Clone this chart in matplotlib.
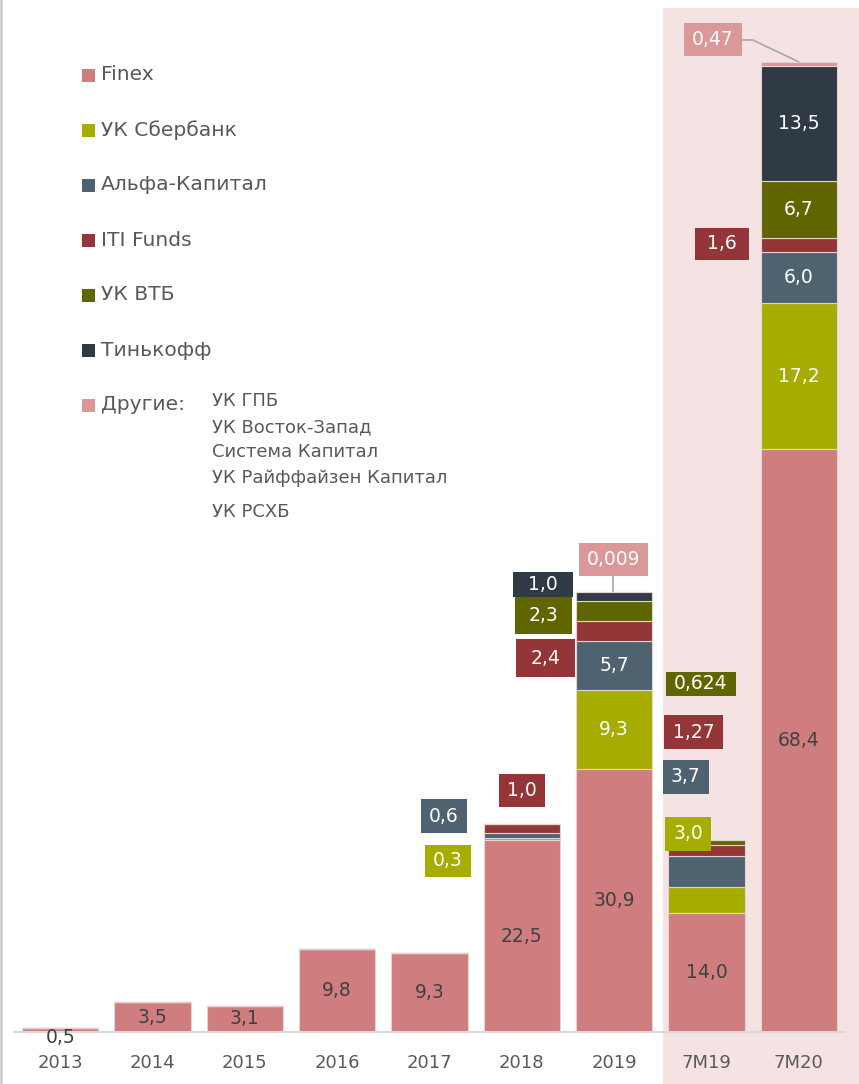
import matplotlib
matplotlib.use("Agg")
import matplotlib.pyplot as plt
from matplotlib.patches import Rectangle
from matplotlib.lines import Line2D

plt.rcParams['font.family'] = ['DejaVu Sans']

# Data
categories = ["2013", "2014", "2015", "2016", "2017", "2018", "2019", "7M19", "7M20"]
series_names = ["Finex", "УК Сбербанк", "Альфа-Капитал", "ITI Funds", "УК ВТБ", "Тинькофф", "Другие:"]
finex = [0.5, 3.5, 3.1, 9.8, 9.3, 22.5, 30.9, 14.0, 68.4]
sber = [0, 0, 0, 0, 0, 0.3, 9.3, 3.0, 17.2]
alfa = [0, 0, 0, 0, 0, 0.6, 5.7, 3.7, 6.0]
iti = [0, 0, 0, 0, 0, 1.0, 2.4, 1.27, 1.6]
vtb = [0, 0, 0, 0, 0, 0, 2.3, 0.624, 6.7]
tinkoff = [0, 0, 0, 0, 0, 0, 1.0, 0, 13.5]
others = [0, 0, 0, 0, 0, 0, 0.009, 0, 0.47]
others_list = ["УК ГПБ", "УК Восток-Запад", "Система Капитал", "УК Райффайзен Капитал"]
others_last = "УК РСХБ"

colors = ["#D07D7F", "#A6AD00", "#4F6270", "#943538", "#5F6600", "#303A45", "#DA9899"]
series = [finex, sber, alfa, iti, vtb, tinkoff, others]

W, H = 859, 1084
fig = plt.figure(figsize=(W / 100, H / 100), dpi=100)
ax = fig.add_axes([14 / W, 52 / H, 831 / W, 1024 / H])
ax.patch.set_visible(False)

# shaded area for 7M periods
fig.patches.append(Rectangle((663 / W, 0), 196 / W, 1076 / H, transform=fig.transFigure,
                             facecolor="#F5E3E4", edgecolor="none", zorder=-5))
fig.add_artist(Line2D([1 / W, 1 / W], [0, 1], color="#cfcfcf", lw=2))

x = list(range(len(categories)))
bottoms = [0.0] * len(categories)
for vals, col in zip(series, colors):
    ax.bar(x, vals, bottom=bottoms, width=0.83, color=col, edgecolor="#e3d3d3", linewidth=0.8, zorder=2)
    bottoms = [b + v for b, v in zip(bottoms, vals)]

ax.set_xlim(-0.5, 8.5)
ax.set_ylim(0, 120.2)
ax.set_xticks(x)
ax.set_xticklabels(categories, fontsize=13, color="#595959")
ax.tick_params(axis="x", length=0, pad=16)
ax.set_yticks([])
for s in ["top", "left", "right"]:
    ax.spines[s].set_visible(False)
ax.spines["bottom"].set_color("#d9d9d9")
ax.spines["bottom"].set_linewidth(1.5)
ax.spines["bottom"].set_zorder(3)


def fmt(v):
    return str(v).replace(".", ",")


# labels inside Finex bars
for i, v in enumerate(finex):
    yy = v / 2 if v > 1 else -0.6
    ax.text(i, yy, fmt(v), ha="center", va="center", fontsize=13.5, color="#404040", zorder=4)

# white labels inside other segments
order = [finex, sber, alfa, iti, vtb, tinkoff, others]
inside = [(6, sber), (6, alfa), (8, sber), (8, alfa), (8, vtb), (8, tinkoff)]
for i, ser in inside:
    k = order.index(ser)
    base = sum(order[j][i] for j in range(k))
    ax.text(i, base + ser[i] / 2, fmt(ser[i]), ha="center", va="center", fontsize=13.5,
            color="white", zorder=4)

# callout boxes: (category, value, color, x offset, y centre, box width, box height)
callouts = [
    (5, sber[5], colors[1], -0.80, 20.1, 0.49, 3.8),
    (5, alfa[5], colors[2], -0.845, 25.35, 0.50, 4.0),
    (5, iti[5], colors[3], 0.0, 28.35, 0.50, 3.9),
    (6, tinkoff[6], colors[5], -0.773, 52.5, 0.65, 2.95),
    (6, vtb[6], colors[4], -0.767, 48.9, 0.62, 4.3),
    (6, iti[6], colors[3], -0.745, 43.9, 0.64, 4.45),
    (6, others[6], colors[6], -0.01, 55.45, 0.75, 3.9),
    (7, vtb[7], colors[4], -0.06, 40.85, 0.76, 2.85),
    (7, iti[7], colors[3], -0.14, 35.2, 0.63, 4.0),
    (7, alfa[7], colors[2], -0.223, 29.95, 0.50, 4.0),
    (7, sber[7], colors[1], -0.20, 23.25, 0.50, 4.0),
    (8, iti[8], colors[3], -0.834, 92.5, 0.585, 3.8),
    (8, others[8], colors[6], -0.93, 116.5, 0.63, 3.9),
]
for i, v, col, dx, yc, bw, bh in callouts:
    xc = i + dx
    ax.add_patch(Rectangle((xc - bw / 2, yc - bh / 2), bw, bh, facecolor=col, edgecolor="none", zorder=5))
    ax.text(xc, yc, fmt(v), ha="center", va="center", fontsize=13.5, color="white", zorder=6)

# connector lines for small "others" values
ax.plot([5.99, 5.99], [53.5, bottoms[6]], color="#a6a6a6", lw=1.2, zorder=1)
ax.plot([7.385, 7.50, 8.0], [116.45, 116.45, bottoms[8]], color="#a6a6a6", lw=1.2, zorder=1)

# legend
rows_y = [75, 130, 185, 240, 295, 350, 405]
for name, col, yy in zip(series_names, colors, rows_y):
    fig.patches.append(Rectangle((82 / W, 1 - (yy + 7) / H), 13 / W, 13 / H, transform=fig.transFigure,
                                 facecolor=col, edgecolor="none"))
    fig.text(101 / W, 1 - yy / H, name, ha="left", va="center", fontsize=14.6, color="#595959")

for name, yy in zip(others_list, [401, 427, 452, 478]):
    fig.text(212 / W, 1 - yy / H, name, ha="left", va="center", fontsize=13, color="#595959")
fig.text(212 / W, 1 - 512 / H, others_last, ha="left", va="center", fontsize=13, color="#595959")

fig.savefig("out.png", dpi=100)
